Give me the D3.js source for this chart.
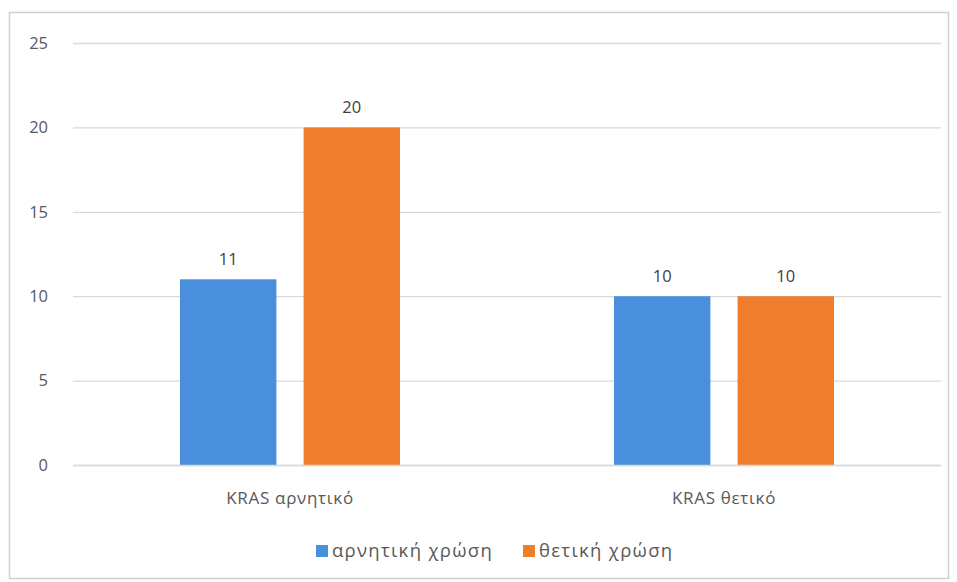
<!DOCTYPE html>
<html><head><meta charset="utf-8">
<script src="https://cdn.jsdelivr.net/npm/d3@7"></script>
<style>body{margin:0;background:#fff;}svg{display:block;}</style>
</head><body><svg id="c" width="957" height="582"></svg>
<script>
const categories = ["KRAS αρνητικό", "KRAS θετικό"];
const seriesNames = ["αρνητική χρώση", "θετική χρώση"];
const negative = [11, 10];
const positive = [20, 10];
const yTicks = [0, 5, 10, 15, 20, 25];
const colors = ["#4A8FDB", "#EF7D2E"];

const svg = d3.select("#c");
const font = "'Open Sans', 'Noto Sans', sans-serif";
svg.append("rect").attr("x", 9.5).attr("y", 12.5).attr("width", 939).attr("height", 566)
  .attr("fill", "#fff").attr("stroke", "#cfcfcf").attr("stroke-width", 1.5);

const m = {left: 73, right: 941, top: 43, bottom: 465};
const x0 = d3.scaleBand().domain(categories).range([m.left, m.right]).paddingInner(0).paddingOuter(0);
const x1 = d3.scaleBand().domain(seriesNames).range([107, 327]).paddingInner(0.22);
const y = d3.scaleLinear().domain([0, 25]).range([m.bottom, m.top]);

// gridlines
const yAxis = d3.axisLeft(y).tickValues(yTicks).tickSize(-(m.right - m.left)).tickPadding(25);
const ga = svg.append("g").attr("transform", `translate(${m.left},0)`).call(yAxis);
ga.select(".domain").remove();
ga.selectAll(".tick line").attr("stroke", "#d9d9d9").attr("stroke-width", 1.3);
ga.selectAll(".tick text").attr("fill", "#595959").style("font-family", font).style("font-size", "16.5px");

const rows = categories.map((c, i) => ({cat: c, vals: [negative[i], positive[i]]}));
const g = svg.selectAll(".grp").data(rows).join("g")
  .attr("transform", d => `translate(${x0(d.cat)},0)`);
g.selectAll("rect").data(d => d.vals.map((v, j) => ({v, s: seriesNames[j], j})))
  .join("rect")
  .attr("x", d => x1(d.s)).attr("width", x1.bandwidth())
  .attr("y", d => y(d.v)).attr("height", d => y(0) - y(d.v))
  .attr("fill", d => colors[d.j]);
g.selectAll("text.lbl").data(d => d.vals.map((v, j) => ({v, s: seriesNames[j]})))
  .join("text").attr("class", "lbl")
  .attr("x", d => x1(d.s) + x1.bandwidth() / 2).attr("y", d => y(d.v) - 14)
  .attr("text-anchor", "middle").attr("fill", "#404040")
  .style("font-family", font).style("font-size", "16.5px").text(d => d.v);

// x axis
const xa = svg.append("g").attr("transform", `translate(0,${m.bottom})`)
  .call(d3.axisBottom(x0).tickSize(0).tickPadding(27));
xa.select(".domain").attr("stroke", "#d9d9d9").attr("stroke-width", 1.3);
xa.selectAll("text").attr("fill", "#595959").style("font-family", font).style("font-size", "17px")
  .style("letter-spacing", "0.7px");

// legend
const legX = [316, 523];
const lg = svg.selectAll(".leg").data(seriesNames).join("g")
  .attr("transform", (d, i) => `translate(${legX[i]},551)`);
lg.append("rect").attr("x", 0).attr("y", -6).attr("width", 12).attr("height", 12)
  .attr("fill", (d, i) => colors[i]);
lg.append("text").attr("x", 16).attr("y", 0).attr("dy", "0.35em").attr("fill", "#595959")
  .style("font-family", font).style("font-size", "18.5px").style("letter-spacing", "1.3px").text(d => d);
</script></body></html>
